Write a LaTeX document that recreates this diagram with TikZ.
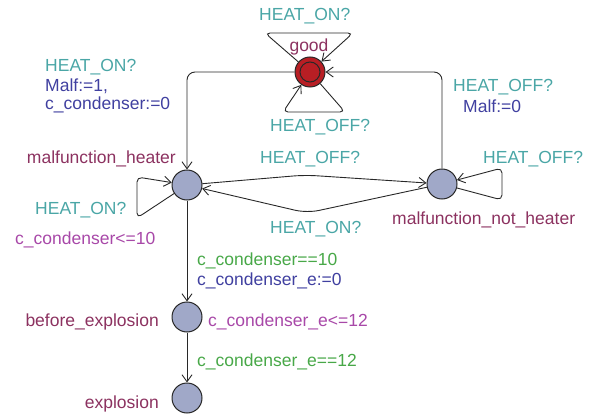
\documentclass[tikz,border=0pt]{standalone}
\usepackage{fontspec}
\setmainfont{Liberation Sans}
\usetikzlibrary{arrows.meta}
\definecolor{cname}{RGB}{140,50,96}
\definecolor{csync}{RGB}{74,166,166}
\definecolor{cupd}{RGB}{64,64,160}
\definecolor{cguard}{RGB}{72,168,72}
\definecolor{cinv}{RGB}{168,72,168}
\definecolor{cloc}{RGB}{160,168,200}
\definecolor{cgood}{RGB}{184,30,36}
\definecolor{cline}{RGB}{40,40,40}
\begin{document}
\begin{tikzpicture}[x=1pt,y=-1pt,
  font=\fontsize{17.5}{20}\selectfont,
  loc/.style={circle,draw=cline,line width=1pt,fill=cloc,minimum size=30pt,inner sep=0pt},
  goodloc/.style={loc,fill=cgood},
  edge/.style={draw=cline,line width=0.9pt,-{Straight Barb[length=7pt,width=10pt,line width=0.9pt]}},
  lbl/.style={anchor=west,inner sep=0pt,text height=12.5pt,text depth=0pt},
  lblr/.style={lbl,anchor=east},
  syn/.style={lbl,text=csync},
  upd/.style={lbl,text=cupd},
  grd/.style={lbl,text=cguard},
  inv/.style={lbl,text=cinv},
  nm/.style={lbl,text=cname},
  nmr/.style={lblr,text=cname}]
\useasboundingbox (0,0) rectangle (591,414);
% locations
\node[goodloc] (good) at (310,72) {};
\draw[cline,line width=1pt] (good.center) circle (10);
\node[loc] (mh) at (187,185) {};
\node[loc] (mnh) at (442,184) {};
\node[loc] (be) at (187,317) {};
\node[loc] (ex) at (187,398) {};
% helper coordinates
\coordinate (gt1) at (265,33);
\coordinate (gt2) at (353,33);
\coordinate (gb1) at (345,112);
\coordinate (gb2) at (283,112);
\coordinate (hl1) at (137,218);
\coordinate (hl2) at (137,177);
\coordinate (nl1) at (502,200);
\coordinate (nl2) at (502,168);
\coordinate (m1) at (305,175);
\coordinate (m2) at (307,213);
% edges
\draw[edge,rounded corners=5pt] (good) -- (gt1) -- (gt2) -- (good);
\draw[edge,rounded corners=5pt] (good) -- (gb1) -- (gb2) -- (good);
\draw[edge,rounded corners=8pt] (good.west) -| (mh.north);
\draw[edge,rounded corners=8pt] (mnh.north) |- (good.east);
\draw[edge,rounded corners=5pt] (mh) -- (hl1) -- (hl2) -- (mh);
\draw[edge,rounded corners=5pt] (mnh) -- (nl1) -- (nl2) -- (mnh);
\draw[edge,rounded corners=12pt] (mh) -- (m1) -- (mnh);
\draw[edge,rounded corners=12pt] (mnh) -- (m2) -- (mh);
\draw[edge] (mh) -- (be);
\draw[edge] (be) -- (ex);
% names
\node[text=cname,anchor=base,inner sep=0pt] (ngood) at (309,52) {good};
\node[nmr] (nmh) at (176,157) {malfunction\_heater};
\node[nm] (nmnh) at (392,218) {malfunction\_not\_heater};
\node[nmr] (nbe) at (159,320) {before\_explosion};
\node[nmr] (nex) at (159,402) {explosion};
% invariants
\node[inv] (imh) at (15,238) {c\_condenser<=10};
\node[inv] (ibe) at (208,320) {c\_condenser\_e<=12};
% labels
\node[syn] (s1) at (259,14) {HEAT\_ON?};
\node[syn] (s2) at (270,125) {HEAT\_OFF?};
\node[syn] (s3) at (45,65) {HEAT\_ON?};
\node[upd] (u3a) at (45,85) {Malf:=1,};
\node[upd] (u3b) at (45,103) {c\_condenser:=0};
\node[syn] (s4) at (35,208) {HEAT\_ON?};
\node[syn] (s5) at (260,157) {HEAT\_OFF?};
\node[syn] (s6) at (270,227) {HEAT\_ON?};
\node[syn] (s7) at (453,85) {HEAT\_OFF?};
\node[upd] (u7) at (463,106) {Malf:=0};
\node[syn] (s8) at (483,157) {HEAT\_OFF?};
\node[grd] (g9) at (197,259) {c\_condenser==10};
\node[upd] (u9) at (197,279) {c\_condenser\_e:=0};
\node[grd] (g10) at (197,360) {c\_condenser\_e==12};
\end{tikzpicture}
\end{document}
